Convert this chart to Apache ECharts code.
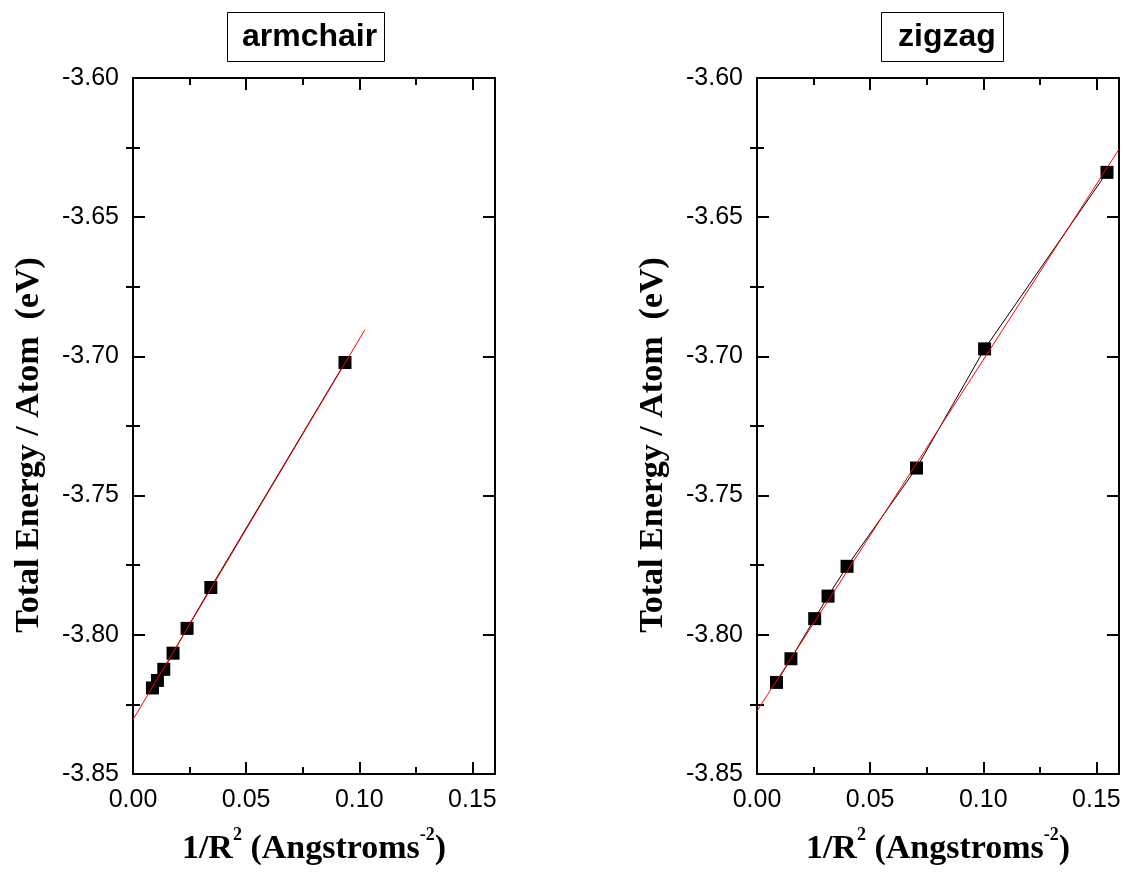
<!DOCTYPE html>
<html>
<head>
<meta charset="utf-8">
<script src="https://cdn.jsdelivr.net/npm/echarts@6/dist/echarts.min.js"></script>
<style>
  html, body { margin: 0; padding: 0; background: #ffffff; }
  #chart { width: 1126px; height: 872px; }
</style>
</head>
<body>
<div id="chart"></div>
<script>
// Armchair tubes: 1/R^2 (Å^-2) vs total energy per atom (eV)
const armchairX = [0.0086, 0.0108, 0.0136, 0.0177, 0.0239, 0.0344, 0.0937];
const armchairY = [-3.8191, -3.8164, -3.8124, -3.8066, -3.7977, -3.7830, -3.7022];
// Linear fit through the armchair points (end points)
const armchairFitX = [0, 0.1025];
const armchairFitY = [-3.8305, -3.6904];

// Zigzag tubes
const zigzagX = [0.0086, 0.0150, 0.0255, 0.0314, 0.0398, 0.0705, 0.1006, 0.1547];
const zigzagY = [-3.8171, -3.8086, -3.7942, -3.7861, -3.7754, -3.7401, -3.6973, -3.6339];
// Linear fit through the zigzag points (end points)
const zigzagFitX = [0, 0.16];
const zigzagFitY = [-3.8274, -3.6256];

// Axis ranges and tick positions
const xRange = [0, 0.16];
const yRange = [-3.85, -3.60];
const xMajorTicks = [0, 0.05, 0.10, 0.15];
const xMinorTicks = [0.025, 0.075, 0.125];
const yMajorTicks = [-3.85, -3.80, -3.75, -3.70, -3.65, -3.60];
const yMinorTicks = [-3.825, -3.775, -3.725, -3.675, -3.625];
const xTickLabels = ['0.00', '0.05', '0.10', '0.15'];
const yTickLabels = ['-3.85', '-3.80', '-3.75', '-3.70', '-3.65', '-3.60'];

const panelTitles = ['armchair', 'zigzag'];
const yAxisTitle = 'Total Energy / Atom  (eV)';

const pairs = (xs, ys) => xs.map((x, i) => [x, ys[i]]);
const labelFor = (ticks, labels) => v => {
  const i = ticks.findIndex(t => Math.abs(t - v) < 1e-9);
  return i >= 0 ? labels[i] : '';
};

const panels = [
  { left: 133, x: armchairX, y: armchairY, fx: armchairFitX, fy: armchairFitY, titleLeft: 227, titlePad: [9, 8, 9, 15] },
  { left: 757, x: zigzagX, y: zigzagY, fx: zigzagFitX, fy: zigzagFitY, titleLeft: 881, titlePad: [9, 8, 9, 17] }
];
const plotTop = 78, plotW = 362, plotH = 696;

const grids = [], xAxes = [], yAxes = [], series = [], titles = [], graphics = [];
const axisLine = { show: true, onZero: false, lineStyle: { color: '#000', width: 2 } };
const tickLine = { color: '#000', width: 2 };
const labelFont = { color: '#000', fontFamily: 'Liberation Sans, Arial, sans-serif', fontSize: 25 };
const nameFont = { fontFamily: 'Liberation Serif, Times New Roman, serif', fontWeight: 'bold', color: '#000' };

panels.forEach((p, k) => {
  const gMain = grids.length;
  grids.push({ left: p.left, top: plotTop, width: plotW, height: plotH, containLabel: false });
  const gMinor = grids.length;
  grids.push({ left: p.left, top: plotTop, width: plotW, height: plotH, containLabel: false });

  const xBase = { type: 'value', min: xRange[0], max: xRange[1], splitLine: { show: false } };
  const yBase = { type: 'value', min: yRange[0], max: yRange[1], splitLine: { show: false } };

  // major ticks, labels and frame
  const xMain = xAxes.length;
  xAxes.push({
    ...xBase, gridIndex: gMain, position: 'bottom', axisLine,
    axisTick: { show: true, inside: true, length: 12, customValues: xMajorTicks, lineStyle: tickLine },
    axisLabel: { show: true, customValues: xMajorTicks, margin: 14, formatter: labelFor(xMajorTicks, xTickLabels), ...labelFont },
    name: '{b|1/R}{s|2}{b| (Angstroms}{s|-2}{b|)}',
    nameLocation: 'middle', nameGap: 50,
    nameTextStyle: {
      rich: {
        b: { ...nameFont, fontSize: 34, lineHeight: 42, verticalAlign: 'bottom' },
        s: { ...nameFont, fontSize: 18, lineHeight: 42, verticalAlign: 'bottom', padding: [0, 0, 22, 0] }
      }
    }
  });
  xAxes.push({
    ...xBase, gridIndex: gMain, position: 'top', axisLine,
    axisTick: { show: true, inside: true, length: 12, customValues: xMajorTicks, lineStyle: tickLine },
    axisLabel: { show: false }
  });
  const yMain = yAxes.length;
  yAxes.push({
    ...yBase, gridIndex: gMain, position: 'left', axisLine,
    axisTick: { show: true, inside: true, length: 12, customValues: yMajorTicks, lineStyle: tickLine },
    axisLabel: { show: true, customValues: yMajorTicks, margin: 14, formatter: labelFor(yMajorTicks, yTickLabels), ...labelFont }
  });
  yAxes.push({
    ...yBase, gridIndex: gMain, position: 'right', axisLine,
    axisTick: { show: true, inside: true, length: 12, customValues: yMajorTicks, lineStyle: tickLine },
    axisLabel: { show: false }
  });

  // minor ticks on all four sides
  ['bottom', 'top'].forEach(pos => xAxes.push({
    ...xBase, gridIndex: gMinor, position: pos, axisLine: { show: false },
    axisTick: { show: true, inside: true, length: 7, customValues: xMinorTicks, lineStyle: tickLine },
    axisLabel: { show: false }
  }));
  ['left', 'right'].forEach(pos => yAxes.push({
    ...yBase, gridIndex: gMinor, position: pos, axisLine: { show: false },
    axisTick: { show: true, inside: true, length: 7, customValues: yMinorTicks, lineStyle: tickLine },
    axisLabel: { show: false }
  }));

  // measured points joined in order
  series.push({
    type: 'line', xAxisIndex: xMain, yAxisIndex: yMain,
    data: pairs(p.x, p.y),
    symbol: 'rect', symbolSize: 13,
    itemStyle: { color: '#000' },
    lineStyle: { color: '#000', width: 1 },
    z: 3, animation: false
  });
  // linear fit
  series.push({
    type: 'line', xAxisIndex: xMain, yAxisIndex: yMain,
    data: pairs(p.fx, p.fy),
    symbol: 'none',
    lineStyle: { color: '#ff0000', width: 1 },
    z: 4, animation: false
  });

  titles.push({
    text: panelTitles[k], left: p.titleLeft, top: 12,
    borderColor: '#000', borderWidth: 1, padding: p.titlePad,
    textStyle: { fontFamily: 'Liberation Sans, Arial, sans-serif', fontWeight: 'bold', fontSize: 32, color: '#000', lineHeight: 32 }
  });

  graphics.push({
    type: 'text', x: p.left - 104, y: 445, rotation: Math.PI / 2,
    style: {
      text: yAxisTitle, ...nameFont, fontSize: 34,
      fill: '#000', align: 'center', verticalAlign: 'middle'
    }
  });
});

const chart = echarts.init(document.getElementById('chart'), null, { renderer: 'canvas' });
chart.setOption({
  backgroundColor: '#ffffff',
  animation: false,
  title: titles,
  grid: grids,
  xAxis: xAxes,
  yAxis: yAxes,
  series: series,
  graphic: graphics
});
</script>
</body>
</html>
